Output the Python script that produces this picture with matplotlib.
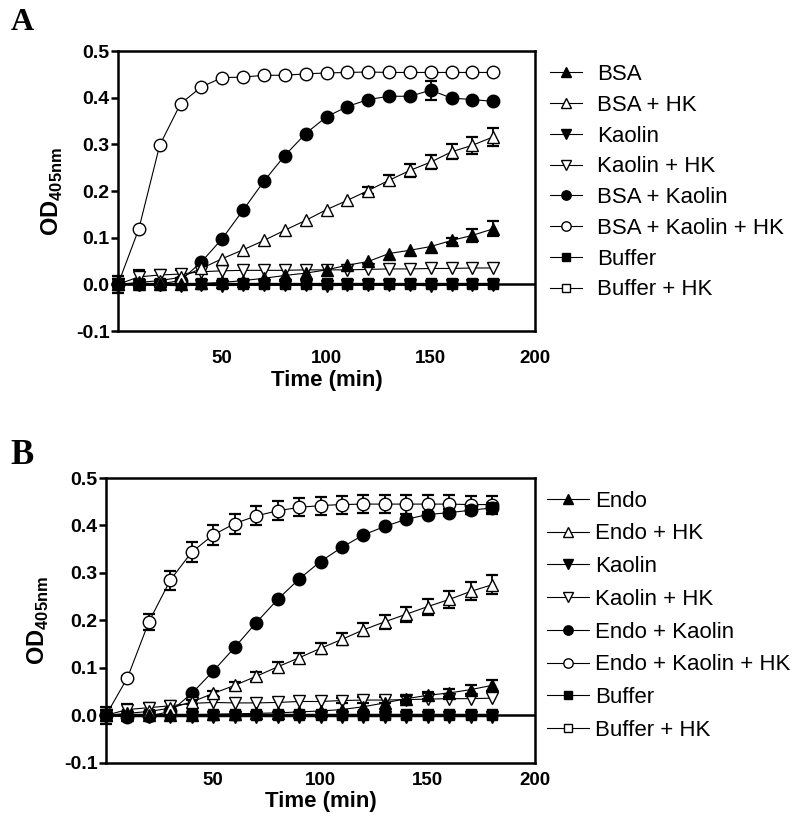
import numpy as np
import matplotlib
matplotlib.use('Agg')
import matplotlib.pyplot as plt
from matplotlib.ticker import FormatStrFormatter

plt.rcParams['font.family'] = 'Liberation Sans'
plt.rcParams['mathtext.fontset'] = 'custom'
plt.rcParams['mathtext.rm'] = 'Liberation Sans'
plt.rcParams['mathtext.bf'] = 'Liberation Sans:bold'
plt.rcParams['axes.unicode_minus'] = False

time = [0, 10, 20, 30, 40, 50, 60, 70, 80, 90, 100, 110, 120, 130, 140, 150, 160, 170, 180]

# ---- panel A (BSA) ----
labels_a = ['BSA', 'BSA + HK', 'Kaolin', 'Kaolin + HK', 'BSA + Kaolin',
            'BSA + Kaolin + HK', 'Buffer', 'Buffer + HK']
bsa = [0, 0, 0, 0, 0.002, 0.004, 0.008, 0.013, 0.019, 0.024, 0.031, 0.041, 0.049,
       0.066, 0.073, 0.081, 0.094, 0.105, 0.119]
bsa_hk = [0, 0.004, 0.008, 0.015, 0.034, 0.055, 0.074, 0.094, 0.116, 0.137, 0.160,
          0.180, 0.201, 0.223, 0.244, 0.262, 0.284, 0.298, 0.316]
kaolin_a = [0, -0.002, -0.002, -0.003, -0.002, -0.003, -0.002, -0.002, -0.002, -0.002,
            -0.003, -0.002, -0.002, -0.002, -0.002, -0.003, -0.002, -0.002, -0.002]
kaolin_hk_a = [0, 0.016, 0.02, 0.022, 0.027, 0.029, 0.03, 0.03, 0.03, 0.031, 0.031,
               0.031, 0.032, 0.033, 0.033, 0.034, 0.034, 0.035, 0.035]
bsa_kaolin = [0, 0, 0.001, 0.008, 0.048, 0.098, 0.159, 0.221, 0.276, 0.323, 0.359,
              0.381, 0.396, 0.403, 0.403, 0.416, 0.399, 0.396, 0.392]
bsa_kaolin_hk = [0, 0.119, 0.298, 0.387, 0.423, 0.443, 0.444, 0.448, 0.448, 0.451,
                 0.453, 0.454, 0.455, 0.454, 0.454, 0.454, 0.454, 0.454, 0.454]
buffer_a = [0, 0, 0, 0, 0, 0, 0, 0, 0, 0, 0, 0, 0, 0, 0, 0, 0, 0, 0]
buffer_hk_a = [0, 0.002, 0.002, 0.002, 0.002, 0.002, 0.002, 0.002, 0.002, 0.002,
               0.002, 0.002, 0.002, 0.002, 0.002, 0.002, 0.002, 0.002, 0.002]

bsa_err = [0, 0, 0, 0, 0, 0, 0, 0, 0, 0, 0, 0, 0, 0, 0, 0, 0.005, 0.014, 0.016]
bsa_hk_err = [0, 0, 0, 0, 0, 0, 0, 0, 0, 0, 0, 0, 0.008, 0.011, 0.013, 0.015,
              0.016, 0.018, 0.02]
kaolin_hk_a_err = [0, 0.014, 0.01, 0.008, 0, 0, 0, 0, 0, 0, 0, 0, 0, 0, 0, 0, 0, 0, 0]
bsa_kaolin_err = [0, 0, 0, 0, 0, 0, 0, 0, 0, 0, 0, 0, 0, 0, 0, 0.02, 0, 0, 0]
buffer_hk_a_err = [0.018, 0, 0, 0, 0, 0, 0, 0, 0, 0, 0, 0, 0, 0, 0, 0, 0, 0, 0]

# ---- panel B (Endo) ----
labels_b = ['Endo', 'Endo + HK', 'Kaolin', 'Kaolin + HK', 'Endo + Kaolin',
            'Endo + Kaolin + HK', 'Buffer', 'Buffer + HK']
endo = [0, 0, 0, 0, 0.001, 0.002, 0.003, 0.004, 0.005, 0.007, 0.009, 0.012, 0.018,
        0.026, 0.035, 0.042, 0.047, 0.054, 0.063]
endo_hk = [0, 0.004, 0.008, 0.015, 0.028, 0.046, 0.063, 0.082, 0.102, 0.121, 0.141,
           0.160, 0.180, 0.197, 0.213, 0.229, 0.244, 0.261, 0.275]
kaolin_b = [0, -0.003, -0.003, -0.003, -0.003, -0.003, -0.003, -0.003, -0.003, -0.003,
            -0.003, -0.003, -0.003, -0.003, -0.003, -0.003, -0.003, -0.003, -0.003]
kaolin_hk_b = [0, 0.012, 0.016, 0.02, 0.025, 0.027, 0.026, 0.026, 0.027, 0.029, 0.029,
               0.031, 0.032, 0.032, 0.033, 0.034, 0.035, 0.035, 0.036]
endo_kaolin = [0, -0.003, -0.002, 0.008, 0.046, 0.093, 0.143, 0.195, 0.244, 0.287,
               0.324, 0.354, 0.380, 0.398, 0.413, 0.423, 0.427, 0.432, 0.437]
endo_kaolin_hk = [0, 0.079, 0.197, 0.285, 0.344, 0.380, 0.404, 0.420, 0.431, 0.438,
                  0.442, 0.444, 0.445, 0.445, 0.445, 0.445, 0.445, 0.444, 0.444]
buffer_b = [0, 0, 0, 0, 0, 0, 0, 0, 0, 0, 0, 0, 0, 0, 0, 0, 0, 0, 0]
buffer_hk_b = [0, 0.002, 0.002, 0.002, 0.002, 0.002, 0.002, 0.002, 0.002, 0.002,
               0.002, 0.002, 0.002, 0.002, 0.002, 0.002, 0.002, 0.002, 0.002]

endo_err = [0, 0, 0, 0, 0, 0, 0, 0, 0, 0, 0, 0, 0, 0, 0.006, 0.008, 0.009, 0.01, 0.012]
endo_hk_err = [0, 0, 0, 0, 0.005, 0.006, 0.008, 0.01, 0.01, 0.011, 0.012, 0.013, 0.014,
               0.015, 0.016, 0.017, 0.018, 0.019, 0.02]
kaolin_hk_b_err = [0, 0.012, 0.01, 0.01, 0, 0, 0, 0, 0, 0, 0, 0.006, 0.007, 0.007,
                   0.008, 0, 0, 0, 0]
endo_kaolin_err = [0, 0, 0, 0, 0, 0, 0, 0, 0, 0, 0, 0, 0, 0, 0, 0.006, 0.008, 0.008, 0.01]
endo_kaolin_hk_err = [0, 0.004, 0.017, 0.02, 0.022, 0.021, 0.021, 0.02, 0.02, 0.019,
                      0.019, 0.019, 0.019, 0.019, 0.02, 0.02, 0.02, 0.019, 0.019]
buffer_hk_b_err = [0.018, 0, 0, 0, 0, 0, 0, 0, 0, 0, 0, 0, 0, 0, 0, 0, 0, 0, 0]

# marker, filled, size
styles = [('^', True, 9), ('^', False, 9), ('v', True, 9), ('v', False, 9),
          ('o', True, 9), ('o', False, 9), ('s', True, 7.5), ('s', False, 7.5)]


def draw_panel(ax, labels, series, errors):
    t = np.array(time)
    for i, (lab, y, err, (mk, filled, ms)) in enumerate(zip(labels, series, errors, styles)):
        z = 30 - 3 * i  # first data set sits on top, like the original
        y = np.array(y)
        ax.plot(t, y, marker=mk, ms=ms, mfc='black' if filled else 'white',
                mec='black', mew=1.0, color='black', lw=0.8, label=lab,
                zorder=z, clip_on=False)
        if err is not None:
            e = np.array(err)
            m = e > 0
            ax.errorbar(t[m], y[m], yerr=e[m], fmt='none', ecolor='black',
                        elinewidth=1.3, capsize=4.3, capthick=1.6, zorder=z - 1,
                        clip_on=False)
    ax.axhline(0, color='black', lw=1.8, zorder=2)
    ax.set_xlim(0, 200)
    ax.set_ylim(-0.1, 0.5)
    ax.set_xticks([50, 100, 150, 200])
    ax.set_yticks([-0.1, 0.0, 0.1, 0.2, 0.3, 0.4, 0.5])
    ax.yaxis.set_major_formatter(FormatStrFormatter('%.1f'))
    for s in ax.spines.values():
        s.set_linewidth(1.8)
    ax.tick_params(axis='y', direction='out', length=5, width=1.8, labelsize=14, pad=1)
    for lbl in ax.get_xticklabels() + ax.get_yticklabels():
        lbl.set_fontweight('bold')
    ax.text(-0.158, 0.5, r'$\mathbf{OD}_{\mathbf{405nm}}$', rotation=90,
            transform=ax.transAxes, ha='center', va='center', fontsize=17)


fig = plt.figure(figsize=(7.95, 8.32), dpi=100)
axA = fig.add_axes([118 / 795, 1 - 331 / 832, 417 / 795, 280 / 832])
axB = fig.add_axes([106 / 795, 1 - 762.7 / 832, 429 / 795, 284.7 / 832])

draw_panel(axA, labels_a,
           [bsa, bsa_hk, kaolin_a, kaolin_hk_a, bsa_kaolin, bsa_kaolin_hk, buffer_a, buffer_hk_a],
           [bsa_err, bsa_hk_err, None, kaolin_hk_a_err, bsa_kaolin_err, None, None, buffer_hk_a_err])
draw_panel(axB, labels_b,
           [endo, endo_hk, kaolin_b, kaolin_hk_b, endo_kaolin, endo_kaolin_hk, buffer_b, buffer_hk_b],
           [endo_err, endo_hk_err, None, kaolin_hk_b_err, endo_kaolin_err, endo_kaolin_hk_err,
            None, buffer_hk_b_err])

axA.tick_params(axis='x', length=0, labelsize=13.5, pad=14)
axB.tick_params(axis='x', length=0, labelsize=13.5, pad=7)
axA.set_xlabel('Time (min)', fontsize=16, fontweight='bold', labelpad=2)
axB.set_xlabel('Time (min)', fontsize=16, fontweight='bold', labelpad=1)

axA.legend(loc='upper left', bbox_to_anchor=(550 / 795, 1 - 64 / 832),
           bbox_transform=fig.transFigure, frameon=False, fontsize=16,
           handlelength=1.43, handletextpad=0.68, labelspacing=0.44,
           borderpad=0, borderaxespad=0, markerscale=0.75)
axB.legend(loc='upper left', bbox_to_anchor=(547 / 795, 1 - 490.5 / 832),
           bbox_transform=fig.transFigure, frameon=False, fontsize=16,
           handlelength=1.88, handletextpad=0.3, labelspacing=0.53,
           borderpad=0, borderaxespad=0, markerscale=0.75)

fig.text(22 / 795, 1 - 23 / 832, 'A', family='Liberation Serif', weight='bold',
         size=23, ha='center', va='center')
fig.text(22 / 795, 1 - 455 / 832, 'B', family='Liberation Serif', weight='bold',
         size=25, ha='center', va='center')

fig.savefig('out.png', dpi=100)
